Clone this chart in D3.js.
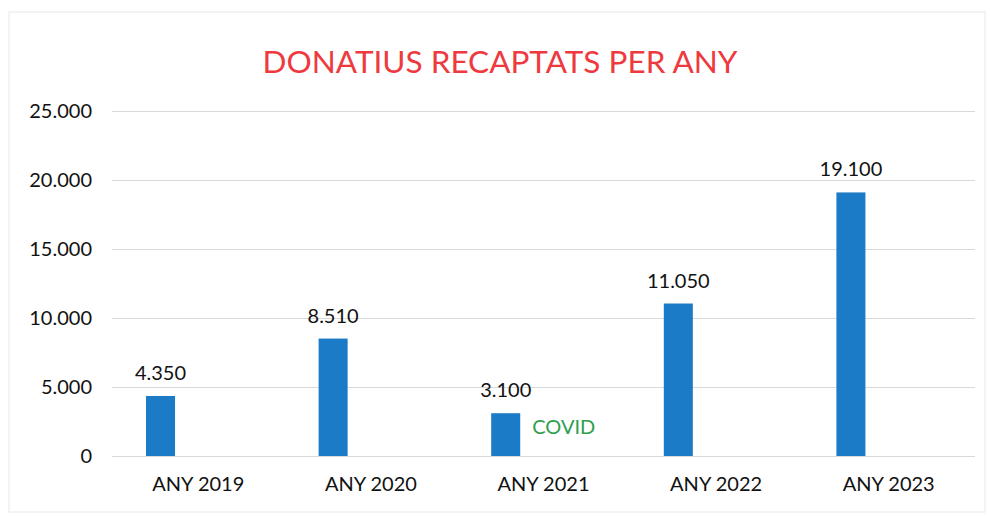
<!DOCTYPE html>
<html>
<head>
<meta charset="utf-8">
<script src="https://cdn.jsdelivr.net/npm/d3@7"></script>
<style>
  html, body { margin: 0; padding: 0; background: #fff; }
  svg { display: block; font-family: Lato, "Open Sans", sans-serif; }
</style>
</head>
<body>
<svg id="chart" width="990" height="517"></svg>
<script>
const categories = ["ANY 2019", "ANY 2020", "ANY 2021", "ANY 2022", "ANY 2023"];
const donations = [4350, 8510, 3100, 11050, 19100];
const valueLabels = ["4.350", "8.510", "3.100", "11.050", "19.100"];
const yTicks = [0, 5000, 10000, 15000, 20000, 25000];
const yTickLabels = ["0", "5.000", "10.000", "15.000", "20.000", "25.000"];
const title = "DONATIUS RECAPTATS PER ANY";
const note = { category: "ANY 2021", text: "COVID" };

const svg = d3.select("#chart");
const W = 990, H = 517;
const m = { left: 112, right: 15, top: 111, bottom: 61 };
const FONT = "Lato, 'Open Sans', sans-serif";

// faint scan border
svg.append("rect").attr("x", 9).attr("y", 12).attr("width", 976).attr("height", 500)
  .attr("fill", "none").attr("stroke", "#f0f0f0").attr("stroke-width", 1.5);

const x0 = d3.scaleBand().domain(categories).range([m.left, W - m.right]).padding(0);
const x1 = d3.scaleBand().domain(["donatius", "buit"]).range([0, x0.bandwidth()])
  .paddingInner(0.616).paddingOuter(0.45);
const y = d3.scaleLinear().domain([0, 25000]).range([H - m.bottom, m.top]);

// gridlines
const grid = svg.append("g").attr("transform", `translate(${m.left},0)`)
  .call(d3.axisLeft(y).tickValues(yTicks).tickSize(-(W - m.left - m.right)).tickFormat(""));
grid.select(".domain").remove();
grid.selectAll(".tick line").attr("stroke", "#d9d9d9").attr("stroke-width", 1.2);

// y labels
const yAx = svg.append("g").attr("transform", `translate(${m.left},0)`)
  .call(d3.axisLeft(y).tickValues(yTicks).tickSize(0).tickPadding(20)
    .tickFormat((d, i) => yTickLabels[i]));
yAx.select(".domain").remove();
yAx.selectAll("text").attr("font-size", 20).attr("fill", "#111").attr("font-family", FONT);

// x labels
const xAx = svg.append("g").attr("transform", `translate(0,${H - m.bottom})`)
  .call(d3.axisBottom(x0).tickSize(0).tickPadding(21));
xAx.select(".domain").remove();
xAx.selectAll("text").attr("font-size", 20).attr("fill", "#111").attr("font-family", FONT);

// bars
svg.append("g").selectAll("rect").data(donations).join("rect")
  .attr("x", (d, i) => x0(categories[i]) + x1("donatius"))
  .attr("width", x1.bandwidth())
  .attr("y", d => y(d))
  .attr("height", d => y(0) - y(d))
  .attr("fill", "#1c7bc6");

// value labels
svg.append("g").selectAll("text").data(donations).join("text")
  .attr("x", (d, i) => x0(categories[i]) + x1("donatius") + x1.bandwidth() / 2)
  .attr("y", d => y(d) - 16)
  .attr("text-anchor", "middle")
  .attr("font-size", 20).attr("fill", "#111")
  .text((d, i) => valueLabels[i]);

// COVID note
svg.append("text")
  .attr("x", x0(note.category) + x1("donatius") + x1.bandwidth() + 12)
  .attr("y", y(0) - 22)
  .attr("font-size", 20).attr("fill", "#2e9e4f")
  .text(note.text);

// title
svg.append("text").attr("x", 500).attr("y", 73).attr("text-anchor", "middle")
  .attr("font-size", 31.5).attr("fill", "#ee3a3f")
  .text(title);
</script>
</body>
</html>
